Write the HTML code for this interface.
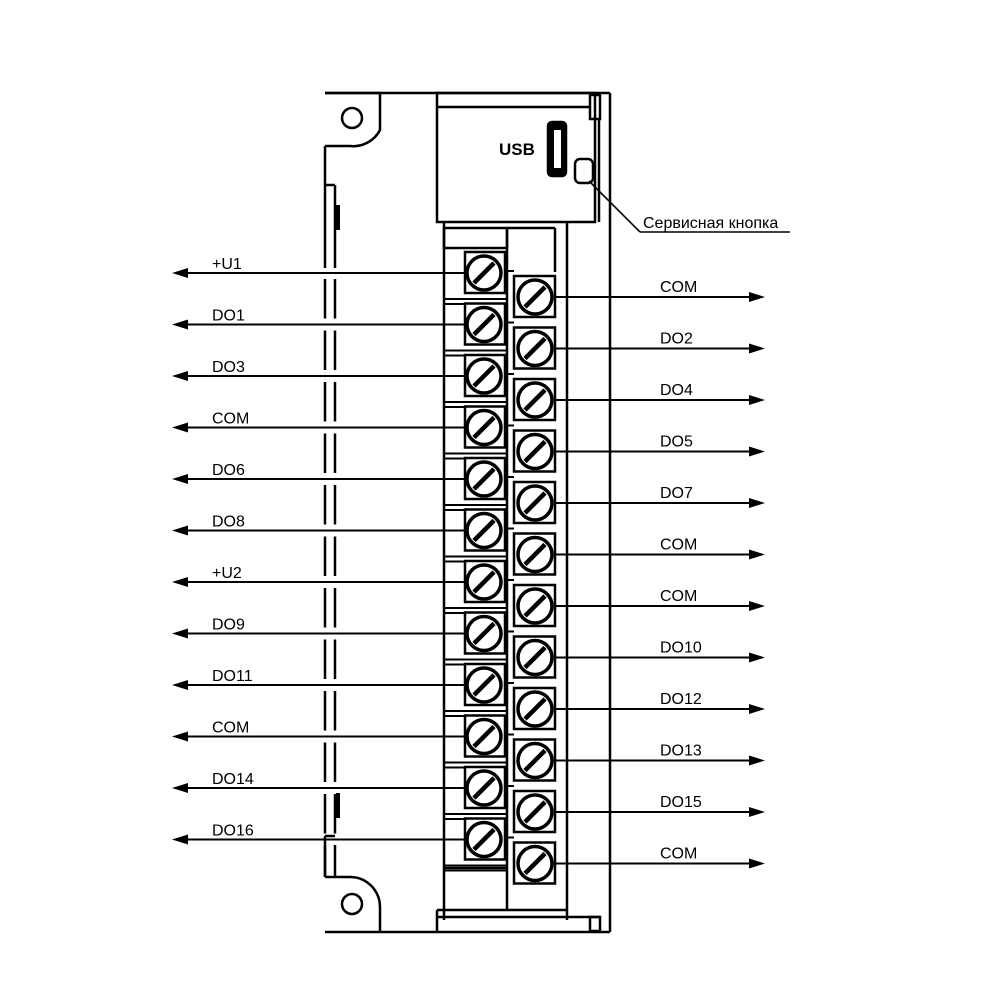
<!DOCTYPE html>
<html><head><meta charset="utf-8"><style>
html,body{margin:0;padding:0;background:#fff;}
svg{display:block;}
text{font-family:"Liberation Sans",sans-serif;font-size:16px;fill:#000;}
</style></head><body>
<svg id="s" width="1001" height="1001" viewBox="0 0 1001 1001" xmlns="http://www.w3.org/2000/svg">
<g stroke="#000" fill="none" stroke-width="2.5">
<line x1="325" y1="93" x2="610" y2="93"/>
<line x1="325" y1="932" x2="610" y2="932"/>
<line x1="610" y1="93" x2="610" y2="932"/>
<path d="M325 93 H380 V130 A30 30 0 0 1 350 146 H325"/>
<circle cx="352" cy="118" r="10"/>
<path d="M325 877 H350 A30 30 0 0 1 380 907 V932"/>
<circle cx="352" cy="904" r="10"/>
<rect x="437" y="93" width="158" height="129"/>
<line x1="437" y1="107" x2="590" y2="107"/>
<rect x="590" y="95" width="10" height="24"/>
<line x1="599" y1="119" x2="599" y2="222"/>
<rect x="548" y="122" width="18" height="54" rx="4" fill="#000"/>
<rect x="554" y="130" width="7" height="38" fill="#fff" stroke="none"/>
<rect x="575" y="159" width="18" height="24" rx="5"/>
<line x1="589" y1="181" x2="640" y2="232" stroke-width="1.6"/>
<line x1="640" y1="232" x2="790" y2="232" stroke-width="1.6"/>
<line x1="444" y1="222" x2="444" y2="920"/>
<line x1="567" y1="222" x2="567" y2="920"/>
<rect x="444" y="228" width="63" height="20"/>
<line x1="507" y1="228" x2="507" y2="910"/>
<line x1="507" y1="228" x2="555" y2="228"/>
<line x1="555" y1="228" x2="555" y2="272"/>
<line x1="444" y1="868" x2="507" y2="868"/>
<line x1="437" y1="910" x2="567" y2="910"/>
<line x1="437" y1="917" x2="600" y2="917"/>
<line x1="437" y1="910" x2="437" y2="932"/>
<rect x="590" y="917" width="10" height="14"/>
</g>
<g id="g"></g>
<text x="499" y="155" style="font-weight:bold;font-size:17px">USB</text>
<text x="643" y="228" style="font-size:16px">Сервисная кнопка</text>
</svg>
<script>
var g=document.getElementById('g'),h='';
var L=['+U1','DO1','DO3','COM','DO6','DO8','+U2','DO9','DO11','COM','DO14','DO16'];
var R=['COM','DO2','DO4','DO5','DO7','COM','COM','DO10','DO12','DO13','DO15','COM'];
function screw(cx,cy,bx,by,bw){
 h+='<rect x="'+bx+'" y="'+by+'" width="'+bw+'" height="41" fill="#fff" stroke="#000" stroke-width="2.5"/>';
 h+='<circle cx="'+cx+'" cy="'+cy+'" r="17" fill="#fff" stroke="#000" stroke-width="3.5"/>';
 h+='<line x1="'+(cx-10)+'" y1="'+(cy+10)+'" x2="'+(cx+10)+'" y2="'+(cy-10)+'" stroke="#000" stroke-width="4.5"/>';
}
var p=51.5;
for(var i=0;i<12;i++){
 var y=273+i*p;
 h+='<line x1="444" y1="'+(y+26)+'" x2="507" y2="'+(y+26)+'" stroke="#000" stroke-width="2"/>';
 h+='<line x1="444" y1="'+(y+31)+'" x2="507" y2="'+(y+31)+'" stroke="#000" stroke-width="2"/>';
 screw(484,y,465,y-21,40);
 h+='<line x1="185" y1="'+y+'" x2="465" y2="'+y+'" stroke="#000" stroke-width="2"/>';
 h+='<polygon points="172,'+y+' 188,'+(y-5)+' 188,'+(y+5)+'" fill="#000"/>';
 h+='<text x="212" y="'+(y-4)+'">'+L[i]+'</text>';
 var yr=297+i*p;
 screw(535,yr,514,yr-21,41);
 h+='<line x1="507" y1="'+(yr-26)+'" x2="514" y2="'+(yr-26)+'" stroke="#000" stroke-width="2"/>';
 h+='<line x1="555" y1="'+yr+'" x2="750" y2="'+yr+'" stroke="#000" stroke-width="2"/>';
 h+='<polygon points="765,'+yr+' 749,'+(yr-5)+' 749,'+(yr+5)+'" fill="#000"/>';
 h+='<text x="660" y="'+(yr-5)+'">'+R[i]+'</text>';
}
var segs=[[185,268]];
for(var i=0;i<11;i++){segs.push([273+i*p+6,273+(i+1)*p-6]);}
segs.push([845,877]);
segs.forEach(function(s){
 h+='<line x1="325" y1="'+s[0]+'" x2="325" y2="'+s[1]+'" stroke="#000" stroke-width="2.5"/>';
 h+='<line x1="335" y1="'+s[0]+'" x2="335" y2="'+s[1]+'" stroke="#000" stroke-width="2.5"/>';
});
h+='<line x1="325" y1="146" x2="325" y2="185" stroke="#000" stroke-width="2.5"/>';
h+='<line x1="325" y1="185" x2="335" y2="185" stroke="#000" stroke-width="2.5"/>';
h+='<line x1="325" y1="836" x2="335" y2="836" stroke="#000" stroke-width="2.5"/>';
h+='<line x1="325" y1="836" x2="325" y2="877" stroke="#000" stroke-width="2.5"/>';
h+='<rect x="336" y="205" width="4" height="25" fill="#000"/>';
h+='<rect x="336" y="793" width="4" height="25" fill="#000"/>';
g.innerHTML=h;
</script>
</body></html>
